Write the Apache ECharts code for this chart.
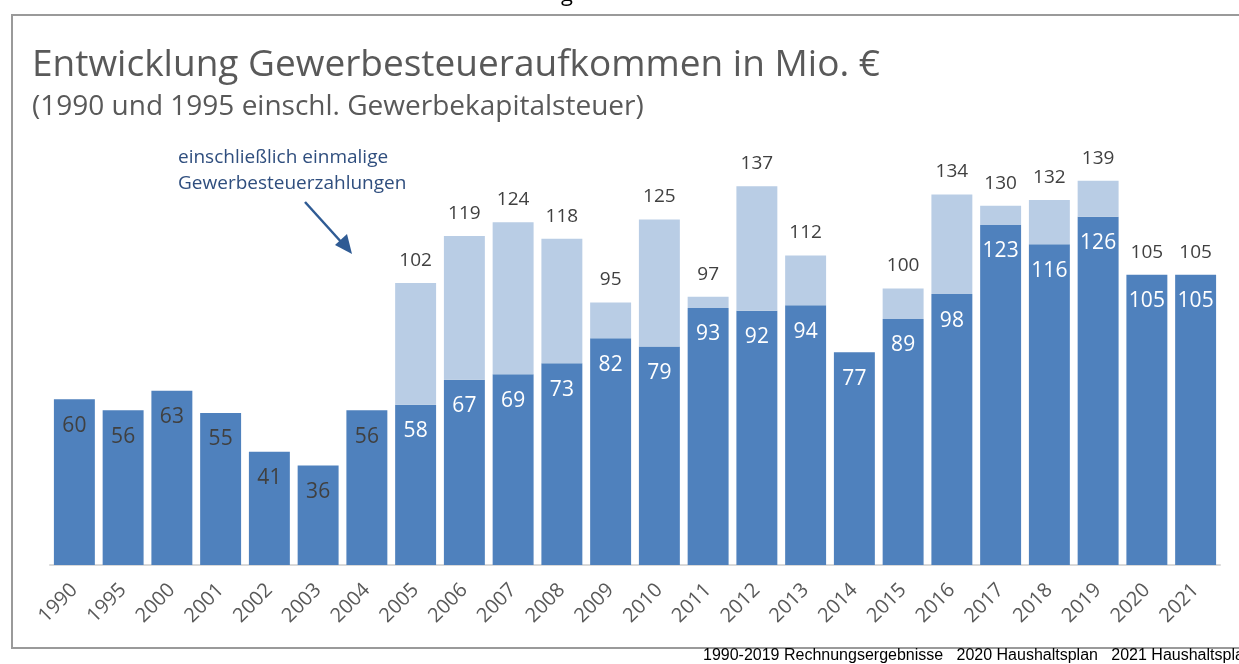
<!DOCTYPE html>
<html>
<head>
<meta charset="utf-8">
<script src="https://cdn.jsdelivr.net/npm/echarts@6/dist/echarts.min.js"></script>
<style>
  html, body { margin: 0; padding: 0; background: #fff; }
  #chart { width: 1239px; height: 664px; }
</style>
</head>
<body>
<div id="chart"></div>
<script>
// Jahre
const years = ['1990', '1995', '2000', '2001', '2002', '2003', '2004', '2005', '2006', '2007', '2008', '2009',
  '2010', '2011', '2012', '2013', '2014', '2015', '2016', '2017', '2018', '2019', '2020', '2021']
// ohne einmalige Zahlungen
const baseValues = [60, 56, 63, 55, 41, 36, 56, 58, 67, 69, 73, 82, 79, 93, 92, 94, 77, 89, 98, 123, 116, 126, 105, 105]
// Gesamt inkl. einmalige Gewerbesteuerzahlungen (null = kein Gesamtwert)
const totals = [null, null, null, null, null, null, null, 102, 119, 124, 118, 95, 125, 97, 137, 112, null, 100, 134, 130, 132, 139, 105, 105]

const extraValues = totals.map((t, i) => (t === null ? null : t - baseValues[i]))

const chart = echarts.init(document.getElementById('chart'))

chart.setOption({
  animation: false,
  textStyle: { fontFamily: 'Open Sans' },
  title: [
    {
      text: 'Entwicklung Gewerbesteueraufkommen in Mio. €',
      left: 32,
      top: 47,
      padding: 0,
      textStyle: { fontSize: 37, fontWeight: 'normal', color: '#595959', fontFamily: 'Open Sans' }
    },
    {
      text: '(1990 und 1995 einschl. Gewerbekapitalsteuer)',
      left: 32,
      top: 93,
      padding: 0,
      textStyle: { fontSize: 28, fontWeight: 'normal', color: '#595959', fontFamily: 'Open Sans' }
    }
  ],
  grid: {
    left: 50,
    right: 19,
    top: 178,
    bottom: 99
  },
  xAxis: {
    type: 'category',
    data: years,
    axisTick: { show: false },
    axisLine: { lineStyle: { color: '#d9d9d9', width: 2 } },
    axisLabel: {
      rotate: 45,
      interval: 0,
      margin: 22,
      fontSize: 20,
      color: '#595959'
    }
  },
  yAxis: {
    type: 'value',
    min: 0,
    max: 140,
    show: false
  },
  series: [
    {
      name: 'Gewerbesteuer',
      type: 'bar',
      stack: 'gesamt',
      barCategoryGap: '16%',
      data: baseValues.map((v, i) => (i < 7 ? { value: v, label: { color: '#404040' } } : v)),
      itemStyle: { color: '#4f81bd' },
      label: {
        show: true,
        position: 'insideTop',
        distance: 16,
        fontSize: 21,
        color: '#fff'
      }
    },
    {
      name: 'einmalige Zahlungen',
      type: 'bar',
      stack: 'gesamt',
      data: extraValues,
      itemStyle: { color: '#b9cde5' },
      label: {
        show: true,
        position: 'top',
        distance: 13,
        fontSize: 19,
        color: '#404040',
        formatter: p => totals[p.dataIndex]
      }
    }
  ],
  graphic: [
    {
      type: 'rect',
      shape: { x: 12, y: 15, width: 1240, height: 633 },
      style: { fill: 'none', stroke: '#9a9a9a', lineWidth: 2 },
      silent: true
    },
    {
      type: 'text',
      left: 561,
      top: -16,
      style: { text: 'g', fontSize: 22, fill: '#000', fontFamily: 'Open Sans' }
    },
    {
      type: 'text',
      left: 178,
      top: 145,
      style: {
        text: 'einschließlich einmalige\nGewerbesteuerzahlungen',
        fontSize: 19,
        lineHeight: 26,
        fill: '#2f4e7e',
        fontFamily: 'Open Sans'
      }
    },
    {
      type: 'line',
      shape: { x1: 305, y1: 202, x2: 343, y2: 244 },
      style: { stroke: '#2f5b94', lineWidth: 2.5 }
    },
    {
      type: 'polygon',
      shape: { points: [[352, 254], [335, 245], [347, 234]] },
      style: { fill: '#2f5b94' }
    },
    {
      type: 'text',
      left: 703,
      top: 648,
      style: {
        text: '1990-2019 Rechnungsergebnisse   2020 Haushaltsplan   2021 Haushaltsplan',
        fontSize: 16,
        fill: '#000',
        fontFamily: 'Liberation Sans'
      }
    }
  ]
})
</script>
</body>
</html>
